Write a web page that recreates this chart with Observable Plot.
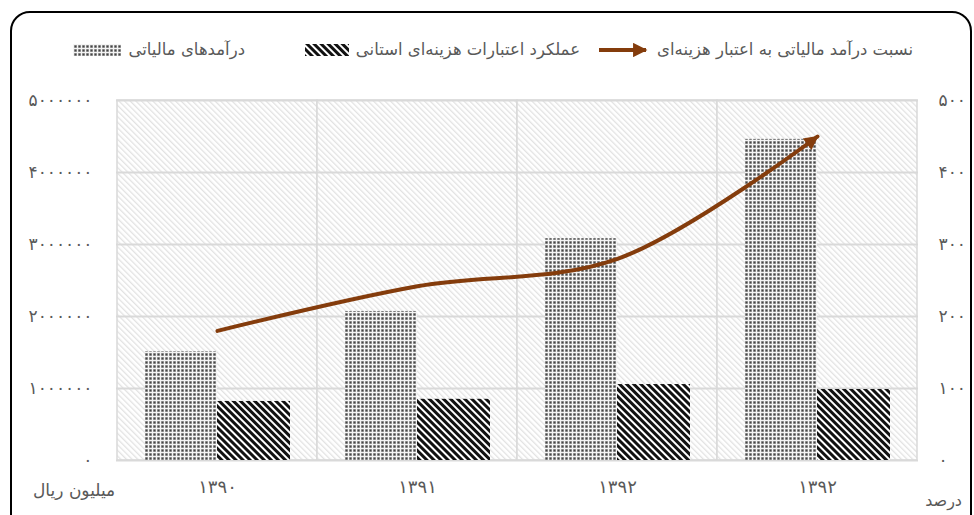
<!DOCTYPE html>
<html>
<head>
<meta charset="utf-8">
<script src="https://cdn.jsdelivr.net/npm/d3@7"></script>
<script src="https://cdn.jsdelivr.net/npm/@observablehq/plot@0.6"></script>
<style>
  html, body { margin: 0; padding: 0; background: #fff; }
  #wrap { position: relative; width: 974px; height: 515px; overflow: hidden; font-family: "DejaVu Sans", sans-serif; }
  #border { position: absolute; left: 10px; top: 11px; width: 962px; height: 530px; border: 2px solid #000; border-radius: 20px; box-sizing: border-box; }
  .leg { position: absolute; top: 40px; display: flex; align-items: center; direction: rtl; gap: 7px; color: #595959; font-size: 16.5px; white-space: nowrap; }
  .ax { position: absolute; color: #595959; font-size: 17px; white-space: nowrap; direction: rtl; }
  #chart { position: absolute; left: 0; top: 0; }
</style>
</head>
<body>
<svg width="0" height="0" style="position:absolute">
  <defs>
    <pattern id="bgHatch" width="4" height="4" patternUnits="userSpaceOnUse" patternTransform="rotate(-45)">
      <rect width="4" height="4" fill="#ffffff"/>
      <rect width="1.3" height="4" fill="#e2e2e2"/>
    </pattern>
    <pattern id="dots" width="4" height="4" patternUnits="userSpaceOnUse">
      <rect width="4" height="4" fill="#b8b8b8"/>
      <rect width="4" height="1" fill="#f4f4f4"/>
      <rect width="1" height="4" fill="#f4f4f4"/>
      <rect x="1.5" y="1.5" width="2" height="2" fill="#444444"/>
    </pattern>
    <pattern id="stripes" width="5" height="5" patternUnits="userSpaceOnUse" patternTransform="rotate(-45)">
      <rect width="5" height="5" fill="#ffffff"/>
      <rect width="3" height="5" fill="#111111"/>
    </pattern>
    <marker id="arrowhead" viewBox="0 0 10 10" refX="9" refY="5" markerWidth="4.2" markerHeight="3.6" orient="auto" markerUnits="strokeWidth">
      <path d="M0,0 L10,5 L0,10 z" fill="#843C0C"/>
    </marker>
  </defs>
</svg>
<div id="wrap">
  <div id="chart"></div>
  <div id="border"></div>
  <div class="leg" style="right:61px"><span>نسبت درآمد مالیاتی به اعتبار هزینه‌ای</span><svg width="52" height="16"><line x1="1" y1="8" x2="48" y2="8" stroke="#843C0C" stroke-width="4" marker-end="url(#arrowhead)"/></svg></div>
  <div class="leg" style="right:394px"><span>عملکرد اعتبارات هزینه‌ای استانی</span><svg width="44" height="12"><rect width="44" height="12" fill="url(#stripes)"/></svg></div>
  <div class="leg" style="right:729px"><span>درآمدهای مالیاتی</span><svg width="48" height="12"><rect width="48" height="12" fill="url(#dots)"/></svg></div>
  <div class="ax" style="left:33px; top:480px">میلیون ریال</div>
  <div class="ax" style="right:12px; top:491px; font-size:16px">درصد</div>
</div>
<script>
const years = ["۱۳۹۰", "۱۳۹۱", "۱۳۹۲", "۱۳۹۲"];
const taxRevenue = [1510000, 2070000, 3080000, 4460000];
const expenditure = [820000, 850000, 1055000, 986000];
const ratioPct = [180, 242, 280, 450];
const leftTicks = [0, 1000000, 2000000, 3000000, 4000000, 5000000];
const rightTicks = [0, 100, 200, 300, 400, 500];
const rightScale = 10000;

const fa = n => String(n).replace(/\d/g, d => "۰۱۲۳۴۵۶۷۸۹"[d]);
const idx = years.map((_, i) => i);

const svg = Plot.plot({
  width: 974,
  height: 515,
  marginLeft: 116,
  marginRight: 56,
  marginTop: 100,
  marginBottom: 55,
  style: { fontFamily: "DejaVu Sans, sans-serif", fontSize: "17px", color: "#595959", background: "transparent" },
  x: { type: "band", domain: idx, padding: 0, axis: null },
  y: { domain: [0, 5000000], axis: null },
  marks: [
    Plot.barY(idx, { x: d => d, y: 5000000, fill: "url(#bgHatch)", stroke: "#d9d9d9", strokeWidth: 1.5 }),
    Plot.ruleY(leftTicks, { stroke: "#d9d9d9", strokeWidth: 2 }),
    Plot.barY(idx, { x: d => d, y: i => taxRevenue[i], fill: "url(#dots)", insetLeft: 28, insetRight: 100 }),
    Plot.barY(idx, { x: d => d, y: i => expenditure[i], fill: "url(#stripes)", insetLeft: 100, insetRight: 27 }),
    Plot.line(idx, { x: d => d, y: i => ratioPct[i] * rightScale, stroke: "#843C0C", strokeWidth: 4, curve: "catmull-rom" }),
    Plot.text(leftTicks, { y: d => d, text: d => fa(d), frameAnchor: "left", textAnchor: "end", dx: -24, fill: "#595959", fontSize: 17 }),
    Plot.text(rightTicks, { y: d => d * rightScale, text: d => fa(d), frameAnchor: "right", textAnchor: "start", dx: 20, fill: "#595959", fontSize: 17 }),
    Plot.text(idx, { x: d => d, text: i => years[i], frameAnchor: "bottom", dy: 32, fill: "#595959", fontSize: 18 })
  ]
});
d3.select(svg).selectAll('g[aria-label="line"] path').attr("marker-end", "url(#arrowhead)");
document.getElementById("chart").appendChild(svg);
</script>
</body>
</html>
